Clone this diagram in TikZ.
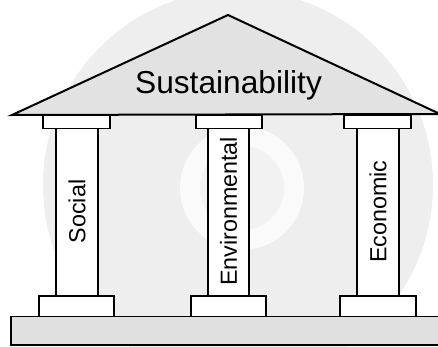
\documentclass[tikz,border=0pt]{standalone}
\usepackage{fontspec}
\setmainfont{Liberation Sans}
\definecolor{wm}{HTML}{EEEEEE}
\definecolor{wmring}{HTML}{FAFAFA}
\definecolor{wmin}{HTML}{F2F2F2}
\definecolor{roofgray}{HTML}{E2E2E2}
\definecolor{basegray}{HTML}{E0E0E0}
\begin{document}
\begin{tikzpicture}[x=1pt,y=-1pt,
  capbox/.style={draw=black,line width=1.8pt,fill=white},
  colbox/.style={draw=black,line width=2.6pt,fill=white},
  coltext/.style={rotate=90,font=\fontsize{23.3}{26}\selectfont,inner sep=0pt},
  rooftext/.style={font=\fontsize{31.7}{36}\selectfont,inner sep=0pt}]
\useasboundingbox (0,0) rectangle (438,347);
\fill[white] (0,0) rectangle (438,347);
% faint watermark
\begin{scope}
\clip (0,0) rectangle (438,347);
\fill[wm] (238,185) circle[radius=195pt];
\fill[wmring] (242,188) circle[radius=62pt];
\fill[wmin] (242,188) circle[radius=42pt];
\end{scope}
% roof
\draw[line width=2pt,fill=roofgray,line join=miter] (12,115) -- (228,15) -- (440,114) -- cycle;
\node[rooftext,anchor=base] (roof) at (228.5,94) {Sustainability};
% platform
\draw[line width=1.6pt,fill=basegray] (11,316.5) rectangle (445,345);
% columns
\draw[colbox] (56,128) rectangle (98,296);
\draw[colbox] (208,128) rectangle (249,296);
\draw[colbox] (357,128) rectangle (399,296);
% capitals
\draw[capbox] (43,115) rectangle (110,128.5);
\draw[capbox] (196,115) rectangle (262,128.5);
\draw[capbox] (344,115) rectangle (411,128.5);
% bases
\draw[capbox] (39,296) rectangle (114,316.5);
\draw[capbox] (191,296) rectangle (266,316.5);
\draw[capbox] (340,296) rectangle (416,316.5);
% labels
\node[coltext] (social) at (77,211.5) {Social};
\node[coltext] (env) at (228.5,211.5) {Environmental};
\node[coltext] (eco) at (378,211.5) {Economic};
\end{tikzpicture}
\end{document}
